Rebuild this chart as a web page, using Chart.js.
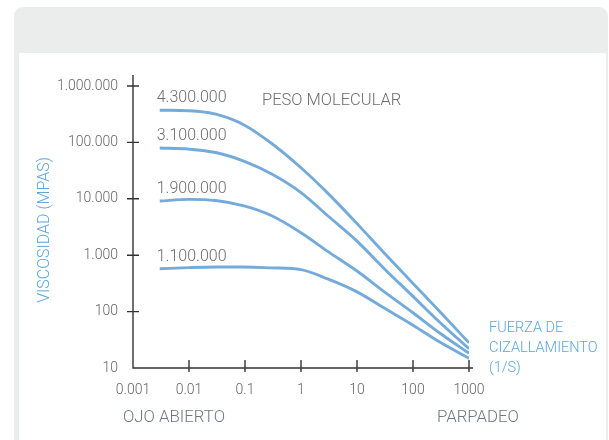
<!DOCTYPE html>
<html>
<head>
<meta charset="utf-8">
<script src="https://cdn.jsdelivr.net/npm/chart.js@4/dist/chart.umd.min.js"></script>
<style>
  body { margin: 0; background: #fff; }
  #card { position: absolute; left: 14px; top: 7px; width: 594px; height: 480px; background: #ebecec; border-radius: 9px; }
  #panel { position: absolute; left: 19px; top: 53px; width: 587px; height: 400px; background: #fff; }
  #chart { position: absolute; left: 0; top: 0; }
</style>
</head>
<body>
<div id="card"></div>
<div id="panel"></div>
<canvas id="chart" width="609" height="440"></canvas>
<script>
// shear rate (1/s)
const shearRates = [0.003, 0.01, 0.03, 0.1, 0.3, 1, 3, 10, 30, 100, 300, 1000];

// viscosity (mPa·s) per molecular weight
const visc4300000 = [372000, 363000, 316000, 200000, 95500, 35500, 12600, 3630, 1120, 316, 100, 28];
const visc3100000 = [79400, 75900, 66100, 45700, 27500, 12900, 5010, 1780, 589, 186, 64.6, 21.9];
const visc1900000 = [9120, 9770, 9330, 7410, 5010, 2510, 1170, 525, 229, 95.5, 41.7, 18.2];
const visc1100000 = [575, 603, 617, 617, 596, 556, 380, 224, 117, 57.5, 28.8, 14.8];

const seriesNames = ['4.300.000', '3.100.000', '1.900.000', '1.100.000'];
const seriesValues = [visc4300000, visc3100000, visc1900000, visc1100000];

const xTicks = [0.001, 0.01, 0.1, 1, 10, 100, 1000];
const xTickLabels = ['0.001', '0.01', '0.1', '1', '10', '100', '1000'];
const yTicks = [10, 100, 1000, 10000, 100000, 1000000];
const yTickLabels = ['10', '100', '1.000', '10.000', '100.000', '1.000.000'];

const FONT = 'Roboto, "Liberation Sans", sans-serif';
const LINE_BLUE = '#74abdb';
const TEXT_BLUE = '#5ba7dd';
const TEXT_GRAY = '#666666';

const datasets = seriesValues.map((vals, i) => ({
    label: seriesNames[i],
    data: shearRates.map((x, j) => ({ x: x, y: vals[j] })),
    borderColor: LINE_BLUE,
    borderWidth: 2.9,
    pointRadius: 0,
    cubicInterpolationMode: 'monotone',
    fill: false
}));

// axis lines, crossing tick marks and the free texts
const decorations = {
    id: 'decorations',
    beforeDatasetsDraw(chart) {
        const ctx = chart.ctx;
        const x = chart.scales.x, y = chart.scales.y;
        const x0 = x.getPixelForValue(xTicks[0]);
        const y0 = y.getPixelForValue(yTicks[0]);
        const yTop = y.getPixelForValue(yTicks[yTicks.length - 1]);
        const xEnd = x.getPixelForValue(xTicks[xTicks.length - 1]);
        ctx.save();
        ctx.strokeStyle = '#333';
        ctx.lineWidth = 1.4;
        ctx.beginPath();
        ctx.moveTo(x0, yTop - 11);
        ctx.lineTo(x0, y0);
        ctx.lineTo(xEnd + 4, y0);
        yTicks.slice(1).forEach(v => {
            const p = y.getPixelForValue(v);
            ctx.moveTo(x0 - 6, p);
            ctx.lineTo(x0 + 6, p);
        });
        xTicks.slice(1).forEach(v => {
            const p = x.getPixelForValue(v);
            ctx.moveTo(p, y0 - 8);
            ctx.lineTo(p, y0 + 4);
        });
        ctx.stroke();
        ctx.restore();
    },
    afterDraw(chart) {
        const ctx = chart.ctx;
        const x = chart.scales.x, y = chart.scales.y;
        ctx.save();
        ctx.textBaseline = 'middle';
        ctx.fillStyle = '#6e6e6e';
        // molecular weight labels above each curve start
        ctx.font = '300 16px ' + FONT;
        seriesValues.forEach((vals, i) => {
            const px = x.getPixelForValue(shearRates[0]) - 3;
            const py = y.getPixelForValue(vals[0]) - 12;
            ctx.fillText(seriesNames[i], px, py);
        });
        ctx.font = '300 16.5px ' + FONT;
        ctx.fillText('PESO MOLECULAR', 262, 101);
        ctx.fillStyle = '#6f7780';
        ctx.font = '300 16.8px ' + FONT;
        ctx.fillText('OJO ABIERTO', 123, 418);
        ctx.fillText('PARPADEO', 437, 418);
        ctx.fillStyle = TEXT_BLUE;
        ctx.font = '300 14.5px ' + FONT;
        ctx.fillText('FUERZA DE', 489, 328);
        ctx.fillText('CIZALLAMIENTO', 489, 348);
        ctx.fillText('(1/S)', 489, 368);
        ctx.font = '300 16px ' + FONT;
        ctx.translate(45, 230);
        ctx.rotate(-Math.PI / 2);
        ctx.textAlign = 'center';
        ctx.fillText('VISCOSIDAD (MPAS)', 0, 0);
        ctx.restore();
    }
};

new Chart(document.getElementById('chart'), {
    type: 'line',
    data: { datasets: datasets },
    options: {
        responsive: false,
        animation: false,
        events: [],
        layout: { padding: { left: 0, top: 86, right: 140, bottom: 0 } },
        plugins: { legend: { display: false }, tooltip: { enabled: false } },
        scales: {
            x: {
                type: 'logarithmic',
                min: xTicks[0],
                max: xTicks[xTicks.length - 1],
                afterFit: s => { s.height = 72; },
                afterBuildTicks: s => { s.ticks = xTicks.map(v => ({ value: v })); },
                grid: { display: false, drawTicks: false },
                border: { display: false },
                ticks: {
                    autoSkip: false,
                    maxRotation: 0,
                    padding: 14,
                    color: TEXT_GRAY,
                    font: { family: FONT, size: 14, weight: '300' },
                    callback: (v, i) => xTickLabels[i]
                }
            },
            y: {
                type: 'logarithmic',
                min: yTicks[0],
                max: yTicks[yTicks.length - 1],
                afterFit: s => { s.width = 133; },
                afterBuildTicks: s => { s.ticks = yTicks.map(v => ({ value: v })); },
                grid: { display: false, drawTicks: false },
                border: { display: false },
                ticks: {
                    autoSkip: false,
                    padding: 15,
                    color: TEXT_GRAY,
                    font: { family: FONT, size: 14, weight: '300' },
                    callback: (v, i) => yTickLabels[i]
                }
            }
        }
    },
    plugins: [decorations]
});
</script>
</body>
</html>
